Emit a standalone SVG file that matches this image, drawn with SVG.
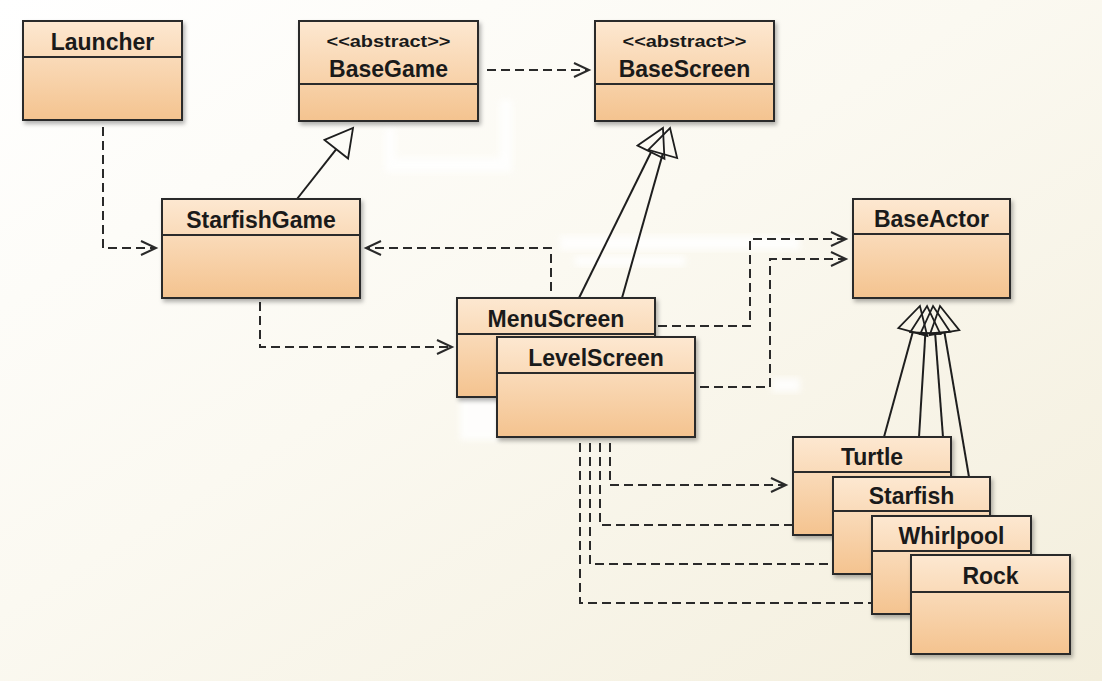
<svg xmlns="http://www.w3.org/2000/svg" width="1102" height="681" viewBox="0 0 1102 681">
<defs>
<linearGradient id="bg" x1="0" y1="0" x2="1" y2="1">
<stop offset="0" stop-color="#ffffff"/>
<stop offset="0.45" stop-color="#fbf9f1"/>
<stop offset="1" stop-color="#f3eedc"/>
</linearGradient>
<linearGradient id="boxfill" x1="0" y1="0" x2="0" y2="1">
<stop offset="0" stop-color="#fde8d1"/>
<stop offset="1" stop-color="#f4c38f"/>
</linearGradient>
<filter id="shadow" x="-10%" y="-10%" width="130%" height="130%">
<feDropShadow dx="2" dy="3" stdDeviation="2" flood-color="#000" flood-opacity="0.3"/>
</filter>
<filter id="blur" x="-20%" y="-20%" width="140%" height="140%">
<feGaussianBlur stdDeviation="3"/>
</filter>
<marker id="open" markerUnits="userSpaceOnUse" markerWidth="18" markerHeight="18" refX="15" refY="7" orient="auto" overflow="visible">
<path d="M0,0 L15,7 L0,14" fill="none" stroke="#2a2a2a" stroke-width="2"/>
</marker>
<marker id="gen" markerUnits="userSpaceOnUse" markerWidth="30" markerHeight="32" refX="0" refY="15" orient="auto" overflow="visible">
<path d="M0,0 L27,15 L0,30 Z" fill="none" stroke="#1e1e1e" stroke-width="1.8" stroke-linejoin="miter"/>
</marker>
</defs>
<style>
.box{fill:url(#boxfill);stroke:#2b2b2b;stroke-width:2;filter:url(#shadow)}
.div{stroke:#2b2b2b;stroke-width:2}
.name{font-family:"Liberation Sans",Arial,sans-serif;font-weight:bold;font-size:23px;fill:#1a1a1a;text-anchor:middle}
.st{font-family:"Liberation Sans",Arial,sans-serif;font-weight:bold;font-size:16px;fill:#1a1a1a;text-anchor:middle}
.dep{fill:none;stroke:#2a2a2a;stroke-width:2;stroke-dasharray:9 5;marker-end:url(#open)}
.dep2{fill:none;stroke:#2a2a2a;stroke-width:2;stroke-dasharray:9 5}
.gen{fill:none;stroke:#1e1e1e;stroke-width:2;marker-end:url(#gen)}
.smudge{fill:#ffffff;opacity:0.85;filter:url(#blur)}
</style>
<rect x="0" y="0" width="1102" height="681" fill="url(#bg)"/>
<g id="smudges">
<path class="smudge" d="M385,128 L395,128 L395,158 L500,158 L500,100 L512,100 L512,172 L385,172 Z"/>
<rect class="smudge" x="560" y="236" width="240" height="14"/>
<rect class="smudge" x="575" y="256" width="110" height="10"/>
<rect class="smudge" x="460" y="395" width="40" height="45"/>
<rect class="smudge" x="772" y="378" width="28" height="14"/>
</g>
<g id="connectors">
<polyline class="dep" points="103,127 103,248 156,248"/>
<line class="dep" x1="487" y1="70" x2="589" y2="70"/>
<line class="gen" x1="297" y1="199" x2="336.3" y2="149.2"/>
<line class="gen" x1="579" y1="298" x2="651" y2="152.2"/>
<line class="gen" x1="622" y1="298" x2="662.7" y2="154"/>
<polyline class="dep" points="551,291 551,248 366,248"/>
<polyline class="dep" points="260,302 260,347 452,347"/>
<polyline class="dep" points="658,326 750,326 750,239 846,239"/>
<polyline class="dep" points="700,387 770,387 770,259 846,259"/>
<line class="gen" x1="884" y1="437" x2="912.8" y2="332"/>
<line class="gen" x1="919" y1="437" x2="925.4" y2="333"/>
<line class="gen" x1="943" y1="437" x2="935.1" y2="332.9"/>
<line class="gen" x1="969" y1="477" x2="944.5" y2="332.6"/>
<polyline class="dep" points="610,443 610,485 786,485"/>
<polyline class="dep2" points="600,443 600,525 793,525"/>
<polyline class="dep2" points="590,443 590,564 833,564"/>
<polyline class="dep2" points="580,443 580,603 872,603"/>
</g>
<g id="Launcher">
<rect class="box" x="23" y="21" width="159" height="99"/>
<line class="div" x1="23" y1="57" x2="182" y2="57"/>
<text class="name" x="102.5" y="50">Launcher</text>
</g>
<g id="BaseGame">
<rect class="box" x="299" y="21" width="179" height="100"/>
<line class="div" x1="299" y1="84" x2="478" y2="84"/>
<text class="st" x="388.5" y="47" textLength="124" lengthAdjust="spacingAndGlyphs">&lt;&lt;abstract&gt;&gt;</text>
<text class="name" x="388.5" y="77">BaseGame</text>
</g>
<g id="BaseScreen">
<rect class="box" x="595" y="21" width="179" height="100"/>
<line class="div" x1="595" y1="84" x2="774" y2="84"/>
<text class="st" x="684.5" y="47" textLength="124" lengthAdjust="spacingAndGlyphs">&lt;&lt;abstract&gt;&gt;</text>
<text class="name" x="684.5" y="77">BaseScreen</text>
</g>
<g id="StarfishGame">
<rect class="box" x="162" y="199" width="198" height="99"/>
<line class="div" x1="162" y1="235" x2="360" y2="235"/>
<text class="name" x="261" y="228">StarfishGame</text>
</g>
<g id="BaseActor">
<rect class="box" x="853" y="199" width="157" height="99"/>
<line class="div" x1="853" y1="234" x2="1010" y2="234"/>
<text class="name" x="931.5" y="227">BaseActor</text>
</g>
<g id="MenuScreen">
<rect class="box" x="457" y="298" width="198" height="99"/>
<line class="div" x1="457" y1="334" x2="655" y2="334"/>
<text class="name" x="556" y="327">MenuScreen</text>
</g>
<g id="LevelScreen">
<rect class="box" x="497" y="337" width="198" height="100"/>
<line class="div" x1="497" y1="373" x2="695" y2="373"/>
<text class="name" x="596" y="366">LevelScreen</text>
</g>
<g id="Turtle">
<rect class="box" x="793" y="437" width="158" height="98"/>
<line class="div" x1="793" y1="472" x2="951" y2="472"/>
<text class="name" x="872" y="465">Turtle</text>
</g>
<g id="Starfish">
<rect class="box" x="833" y="477" width="157" height="97"/>
<line class="div" x1="833" y1="511" x2="990" y2="511"/>
<text class="name" x="911.5" y="504">Starfish</text>
</g>
<g id="Whirlpool">
<rect class="box" x="872" y="516" width="159" height="98"/>
<line class="div" x1="872" y1="551" x2="1031" y2="551"/>
<text class="name" x="951.5" y="544">Whirlpool</text>
</g>
<g id="Rock">
<rect class="box" x="911" y="555" width="159" height="99"/>
<line class="div" x1="911" y1="592" x2="1070" y2="592"/>
<text class="name" x="990.5" y="584">Rock</text>
</g>
</svg>
